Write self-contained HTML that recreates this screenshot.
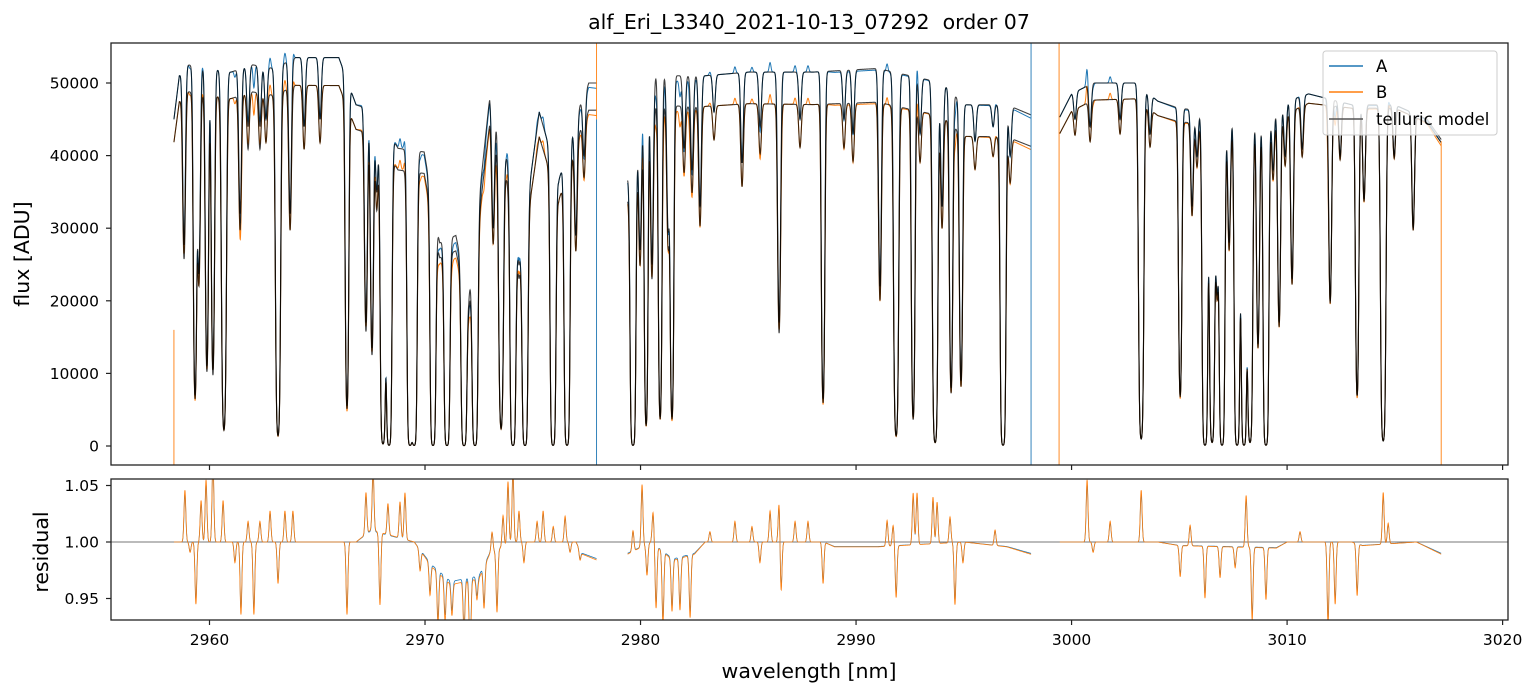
<!DOCTYPE html>
<html><head><meta charset="utf-8"><style>
body{margin:0;background:#fff}
svg{display:block;font-family:"DejaVu Sans","Liberation Sans",sans-serif}
</style></head><body>
<svg id="fig" width="1537" height="696" viewBox="0 0 1537 696" xmlns="http://www.w3.org/2000/svg">
<defs>
<clipPath id="cTop"><rect x="111" y="43" width="1397" height="422"/></clipPath>
<clipPath id="cBot"><rect x="111" y="479" width="1397" height="141"/></clipPath>
</defs>
<rect width="1537" height="696" fill="#fff"/>
<text x="809" y="29" text-anchor="middle" font-size="20.5" fill="#000" xml:space="preserve" style="white-space:pre">alf_Eri_L3340_2021-10-13_07292  order 07</text>
<g id="topArea" clip-path="url(#cTop)"></g>
<g id="botArea" clip-path="url(#cBot)"></g>
<g id="axesG"></g>
<rect x="111" y="43" width="1397" height="422" fill="none" stroke="#222" stroke-width="1.3"/>
<rect x="111" y="479" width="1397" height="141" fill="none" stroke="#222" stroke-width="1.3"/>
<text transform="translate(29,254) rotate(-90)" text-anchor="middle" font-size="20.5">flux [ADU]</text>
<text transform="translate(48,552) rotate(-90)" text-anchor="middle" font-size="20.5">residual</text>
<text x="809" y="678" text-anchor="middle" font-size="20.5">wavelength [nm]</text>
<g>
<rect x="1323" y="51" width="174" height="84" rx="3" fill="#fff" fill-opacity="0.8" stroke="#ccc" stroke-width="1"/>
<g><line x1="1329" y1="66" x2="1363" y2="66" stroke="#1f77b4" stroke-width="1.5"/><text x="1376" y="72" font-size="16.5">A</text></g>
<g><line x1="1329" y1="92" x2="1363" y2="92" stroke="#ff7f0e" stroke-width="1.5"/><text x="1376" y="98" font-size="16.5">B</text></g>
<g><line x1="1329" y1="119" x2="1363" y2="119" stroke="#555" stroke-width="1.5"/><text x="1376" y="125" font-size="16.5">telluric model</text></g>
</g>
</svg>
<script>
// ---- data ----
const segments = [[2958.35, 2977.96], [2979.40, 2998.12], [2999.45, 3017.15]];
const lineCenters = [2958.82,2959.33,2959.51,2959.88,2960.16,2960.67,2961.42,2961.79,2962.34,2962.62,2963.18,2963.74,2964.39,2965.13,2966.38,2967.26,2967.54,2967.76,2968.05,2968.33,2969.30,2969.50,2970.37,2971.02,2971.81,2972.32,2973.16,2973.53,2974.08,2974.64,2975.94,2976.59,2977.00,2977.38,
2979.65,2979.98,2980.26,2980.53,2980.91,2981.28,2981.46,2982.02,2982.39,2982.76,2983.41,2984.71,2985.55,2986.43,2987.40,2988.47,2989.44,2989.86,2991.11,2991.86,2992.65,2992.97,2993.67,2993.99,2994.41,2994.87,2995.52,2996.36,2996.82,2997.15,
3000.16,3000.86,3002.25,3003.23,3003.64,3005.04,3005.59,3005.82,3006.19,3006.52,3006.75,3006.98,3007.31,3007.68,3008.00,3008.28,3008.65,3009.02,3009.35,3009.63,3009.91,3010.23,3010.70,3012.00,3012.46,3013.25,3013.57,3014.46,3014.97,3015.85];
const lineMinFlux = [27700,7000,24000,11000,10500,2300,32000,44000,44000,45000,1500,32000,44000,45000,5500,17000,13500,35000,300,0,0,0,0,0,0,0,30000,2500,0,0,0,0,29000,40000,
0,27000,3000,25000,4000,30000,4000,41000,38000,33000,46000,39000,44000,17000,45000,6500,45000,43000,22000,1500,4000,43000,500,33000,8000,9000,42000,44000,0,40000,
45000,44000,45000,1000,43000,7000,33000,40000,0,500,22000,0,28000,0,0,500,14000,0,38000,17000,40000,23000,41000,20000,40000,7000,34000,700,40000,30000];
const contWl = [2958.35,2958.6,2959,2961,2962,2963,2964,2966,2966.8,2967.75,2968.75,2969.96,2970.68,2971.43,2972.03,2973.0,2973.8,2974.36,2975.3,2976.2,2977.2,2977.6,2978,
2979.4,2980.5,2983,2985,2988,2991,2992.5,2994,2995,2997,2998.2,
2999.4,3000,3001,3003,3004,3005,3007,3009,3011,3013,3015,3016.5,3017.2];
const contA = [45000,51000,52500,51500,52500,52000,53500,53500,47000,46000,41000,40500,28000,29000,20500,48000,39500,25000,46000,36500,47000,50000,50000,
37000,51000,51000,51500,51500,52000,51000,50000,47000,47000,45500,
45000,48500,50000,50000,47500,46500,46000,46500,48500,47000,47000,45000,42000];
const ratioWl = [2958,2978,2979.4,2998.2,2999.4,3005,3010,3013,3017.2];
const ratioB = [0.93,0.925,0.92,0.905,0.95,0.96,0.965,0.99,0.99];
const resWl = [2958.86,2959.10,2959.37,2959.61,2959.84,2960.16,2960.63,2961.18,2961.46,2961.79,2962.06,2962.34,2962.81,2963.18,2963.50,2963.87,2966.38,2967.26,2967.59,2967.91,2968.28,2968.84,2969.07,2969.77,2970.23,2970.60,2970.93,2971.25,2971.81,2972.09,2972.41,2972.74,2973.11,2973.34,2973.62,2973.85,2974.08,2974.36,2974.59,2975.20,2975.48,2975.95,2976.50,2976.73,2977.19,
2979.65,2980.07,2980.30,2980.58,2980.72,2981.04,2981.46,2981.83,2982.30,2983.22,2984.38,2985.17,2985.54,2986.01,2986.43,2986.52,2987.17,2987.77,2988.47,2991.44,2991.72,2991.86,2992.65,2992.83,2993.57,2993.76,2994.36,2994.59,2994.96,2996.45,
3000.72,3001.00,3001.79,3003.23,3005.04,3005.50,3006.19,3006.89,3007.59,3008.10,3008.38,3009.02,3010.60,3011.90,3012.23,3013.25,3014.46,3014.69];
const resAmp = [0.05,-0.01,-0.06,0.04,0.06,0.08,0.04,-0.02,-0.07,0.02,-0.07,0.02,0.03,-0.04,0.03,0.03,-0.07,0.04,0.06,-0.07,0.03,0.035,0.045,-0.02,-0.03,-0.05,-0.04,-0.03,-0.05,-0.08,-0.02,-0.04,0.02,-0.06,0.03,0.06,0.07,0.03,-0.02,0.02,0.03,0.015,0.025,-0.01,-0.01,
0.02,0.06,-0.03,0.03,-0.06,-0.07,-0.05,-0.05,-0.06,0.01,0.02,0.015,-0.02,0.03,0.04,-0.05,0.02,0.02,-0.04,0.025,0.02,-0.05,0.05,0.05,0.045,0.04,0.025,-0.06,-0.02,0.015,
0.06,-0.01,0.02,0.05,-0.03,0.02,-0.05,-0.03,-0.02,0.05,-0.07,-0.05,0.01,-0.08,-0.06,-0.05,0.05,0.02];
const baseWl = [2958.35,2966.8,2967.5,2969.5,2970.3,2971.2,2972.5,2973,2974,2977,2977.3,2978,
2979.4,2980.5,2981.5,2982.5,2983,2988.5,2989,2991,2995,2997,2998.1,
2999.45,3004,3005,3009.5,3010,3013,3013.5,3016,3017.15];
const baseVal = [1.0,1.0,1.01,1.0,0.98,0.965,0.97,0.99,1.0,1.0,0.99,0.985,
0.99,1.0,0.985,0.99,1.0,1.0,0.996,0.996,1.0,0.996,0.99,
1.0,1.0,0.997,0.995,1.0,1.0,0.997,1.0,0.99];
const edgeWl = [2958.35,2977.96,2977.96,2998.12,2999.42,3017.15];
const edgeSeries = ['B','A','B','A','B','B'];
const edgeFrom = [16000,45000,56000,56000,56000,42000];
const edgeTo = [-3000,-3000,45000,-3000,-3000,-3000];
const xTicks = [2960,2970,2980,2990,3000,3010,3020];
const yTicks = [0,10000,20000,30000,40000,50000];
const resTicks = [0.95,1.00,1.05];
const resTickLabels = ['0.95','1.00','1.05'];

// ---- axes ----
const X0=111,X1=1508,XMIN=2955.43,XMAX=3020.25;
const xS = v => X0 + (v-XMIN)/(XMAX-XMIN)*(X1-X0);
const yF = v => 446 - v/10000*72.6;
const yR = v => 542 - (v-1)/0.05*56.5;
const NS='http://www.w3.org/2000/svg';
function mk(tag, attrs, parent){const e=document.createElementNS(NS,tag);for(const k in attrs)e.setAttribute(k,attrs[k]);parent.appendChild(e);return e;}
function interp(arrX, arrY, v){ if(v<=arrX[0])return arrY[0]; for(let i=1;i<arrX.length;i++){ if(v<=arrX[i]){const t=(v-arrX[i-1])/(arrX[i]-arrX[i-1]);return arrY[i-1]+t*(arrY[i]-arrY[i-1]);} } return arrY[arrY.length-1]; }

function model(l){
  let c = interp(contWl, contA, l);
  let tau = 0;
  for(let i=0;i<lineCenters.length;i++){
    const d = l-lineCenters[i]; if(Math.abs(d)>0.6) continue;
    const cc = interp(contWl, contA, lineCenters[i]);
    const m = lineMinFlux[i];
    const t = m<=0 ? 6 : Math.max(0.0, -Math.log(Math.min(m/cc, 0.999)));
    const w = m<3000 ? 0.1 : 0.08;
    tau += t*Math.exp(-(d*d)/(w*w));
  }
  return c*Math.exp(-tau);
}
function resid(l){
  let r = interp(baseWl, baseVal, l);
  for(let i=0;i<resWl.length;i++){ const d=l-resWl[i]; if(Math.abs(d)<0.35) r += 0.85*resAmp[i]*Math.exp(-(d*d)/(0.06*0.06)); }
  return r;
}

const gTop = document.getElementById('topArea'), gBot = document.getElementById('botArea'), gAx = document.getElementById('axesG');
const paths = {A:'',B:'',MA:'',MB:'',RA:'',RB:''};
segments.forEach(seg=>{
  let a='',b='',ma='',mb='',ra='',rb='';
  for(let l=seg[0]; l<=seg[1]+1e-9; l+=0.01){
    const m = model(l), rt = interp(ratioWl, ratioB, l), r = resid(l), rB = 1+(r-1)*1.08;
    const px = xS(l).toFixed(2), cmd = a? 'L':'M';
    a += cmd+px+','+yF(m*r).toFixed(2);
    b += cmd+px+','+yF(m*rt*rB).toFixed(2);
    ma += cmd+px+','+yF(m).toFixed(2);
    mb += cmd+px+','+yF(m*rt).toFixed(2);
    ra += cmd+px+','+yR(r).toFixed(2);
    rb += cmd+px+','+yR(rB).toFixed(2);
  }
  paths.A+=a;paths.B+=b;paths.MA+=ma;paths.MB+=mb;paths.RA+=ra;paths.RB+=rb;
});
let p;
p = mk('path',{d:paths.A,fill:'none',stroke:'#1f77b4','stroke-width':1},gTop);


p = mk('path',{d:paths.B,fill:'none',stroke:'#ff7f0e','stroke-width':1},gTop);


p = mk('path',{d:paths.MA,fill:'none',stroke:'#000','stroke-opacity':0.75,'stroke-width':1.1},gTop);


p = mk('path',{d:paths.MB,fill:'none',stroke:'#000','stroke-opacity':0.75,'stroke-width':1.1},gTop);


edgeWl.forEach((l,i)=>{
  const e = mk('line',{x1:xS(l),x2:xS(l),y1:yF(edgeFrom[i]),y2:yF(edgeTo[i]),stroke:edgeSeries[i]==='A'?'#1f77b4':'#ff7f0e','stroke-width':0.9},gTop);
  
  
});
p = mk('line',{x1:X0,x2:X1,y1:yR(1),y2:yR(1),stroke:'#777','stroke-width':0.9},gBot);


p = mk('path',{d:paths.RA,fill:'none',stroke:'#1f77b4','stroke-width':0.8},gBot);


p = mk('path',{d:paths.RB,fill:'none',stroke:'#ff7f0e','stroke-width':0.8},gBot);



xTicks.forEach(t=>{
  const px=xS(t);
  let e = mk('line',{x1:px,x2:px,y1:465,y2:470,stroke:'#222','stroke-width':1.2},gAx);
  
  
  e = mk('line',{x1:px,x2:px,y1:620,y2:625,stroke:'#222','stroke-width':1.2},gAx);
  
  
  e = mk('text',{x:px,y:645,'text-anchor':'middle','font-size':15.5},gAx);
  e.textContent = t;
  
  
});
yTicks.forEach(t=>{
  const py=yF(t);
  let e = mk('line',{x1:106,x2:111,y1:py,y2:py,stroke:'#222','stroke-width':1.2},gAx);
  
  
  e = mk('text',{x:99,y:py+5.5,'text-anchor':'end','font-size':15.5},gAx);
  e.textContent = t;
  
  
});
resTicks.forEach((t,i)=>{
  const py=yR(t);
  let e = mk('line',{x1:106,x2:111,y1:py,y2:py,stroke:'#222','stroke-width':1.2},gAx);
  
  
  e = mk('text',{x:99,y:py+5.5,'text-anchor':'end','font-size':15.5},gAx);
  e.textContent = resTickLabels[i];
  
  
});
</script>
</body></html>
